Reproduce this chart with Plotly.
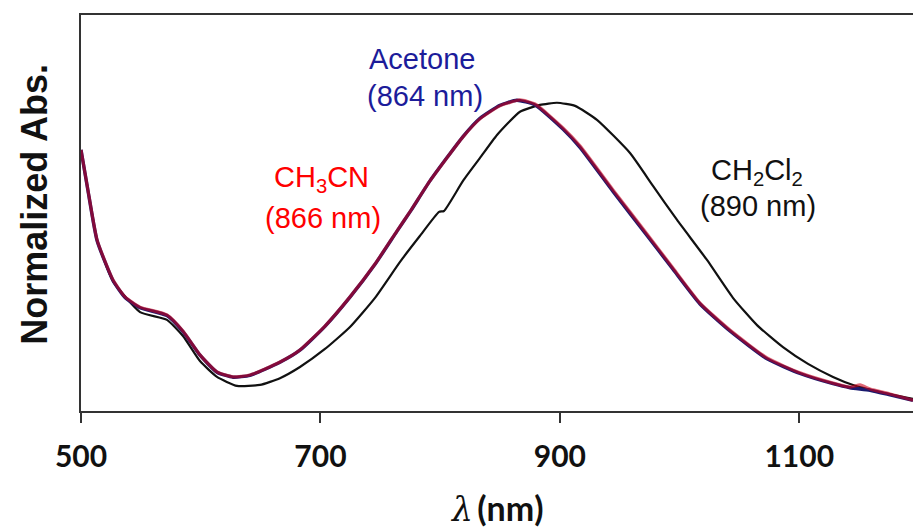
import plotly.graph_objects as go

# Wavelength (nm) and normalized absorbance
wl_ch2cl2 = [500, 505.8, 513.4, 526.7, 549.3, 571.8, 585.2, 599.4, 613.6, 630.3, 649.5, 666.2, 682.9,
             703.8, 724.7, 745.6, 766.5, 783.2, 799.1, 803.2, 819.1, 833.3, 847.5, 866.7, 883.4, 897.6,
             912.7, 931.0, 958.6, 977.8, 997.9, 1022.9, 1044.6, 1064.7, 1086.4, 1107.3, 1128.2,
             1144.9, 1167.4, 1195]
abs_ch2cl2 = [0.842, 0.713, 0.552, 0.419, 0.319, 0.294, 0.242, 0.161, 0.110, 0.081, 0.084, 0.106, 0.142,
              0.200, 0.271, 0.365, 0.481, 0.565, 0.642, 0.645, 0.742, 0.816, 0.890, 0.965, 0.987, 0.994,
              0.984, 0.939, 0.832, 0.726, 0.616, 0.487, 0.365, 0.277, 0.206, 0.152, 0.110,
              0.084, 0.061, 0.039]

wl_ch3cn = [500, 505.8, 513.4, 526.7, 536.8, 549.3, 571.8, 585.2, 599.4, 613.6, 627.0, 641.2, 666.2,
            682.9, 703.8, 724.7, 745.6, 764.0, 775.7, 791.5, 819.1, 833.3, 850.0, 866.7, 879.3, 902.6,
            916.8, 944.4, 972.8, 994.5, 1017.1, 1042.1, 1073.1, 1100.6, 1128.2, 1142.4, 1150.8,
            1159.1, 1175.8, 1195]
abs_ch3cn = [0.842, 0.713, 0.552, 0.423, 0.368, 0.335, 0.310, 0.258, 0.181, 0.126, 0.110, 0.116, 0.158,
             0.197, 0.274, 0.368, 0.474, 0.581, 0.648, 0.742, 0.884, 0.942, 0.984, 1.003, 0.990, 0.913,
             0.855, 0.713, 0.571, 0.461, 0.348, 0.261, 0.171, 0.123, 0.090, 0.077, 0.084,
             0.071, 0.055, 0.035]

wl_acetone = [500, 505.8, 513.4, 526.7, 536.8, 549.3, 571.8, 585.2, 599.4, 613.6, 627.0, 641.2, 666.2,
              682.9, 703.8, 724.7, 745.6, 764.0, 775.7, 791.5, 819.1, 833.3, 850.0, 864.0, 879.3, 902.6,
              916.8, 944.4, 972.8, 994.5, 1017.1, 1042.1, 1073.1, 1100.6, 1128.2, 1142.4,
              1159.1, 1175.8, 1195]
abs_acetone = [0.842, 0.711, 0.550, 0.421, 0.366, 0.333, 0.308, 0.256, 0.180, 0.125, 0.109, 0.115, 0.157,
               0.196, 0.273, 0.367, 0.473, 0.580, 0.647, 0.742, 0.885, 0.944, 0.986, 1.002, 0.987, 0.909,
               0.850, 0.708, 0.566, 0.457, 0.345, 0.258, 0.168, 0.121, 0.088, 0.075,
               0.067, 0.052, 0.034]

x_ticks = [500, 700, 900, 1100]

fig = go.Figure()
spl = dict(shape="spline", smoothing=0.5)
fig.add_trace(go.Scatter(x=wl_ch2cl2, y=abs_ch2cl2, mode="lines", name="CH2Cl2",
                         line=dict(color="#111111", width=2.2, **spl)))
fig.add_trace(go.Scatter(x=wl_acetone, y=abs_acetone, mode="lines", name="Acetone",
                         line=dict(color="#1a1a6e", width=3.4, **spl)))
fig.add_trace(go.Scatter(x=wl_ch3cn, y=abs_ch3cn, mode="lines", name="CH3CN",
                         line=dict(color="rgba(200,0,25,0.6)", width=3.2, **spl)))

lab = dict(family="Liberation Sans, Arial, sans-serif", size=29)
ann = [
    dict(x=784.9, y=1.136, text="Acetone", font=dict(lab, color="#1c1c9a")),
    dict(x=787.0, y=1.016, text="(864 nm)", font=dict(lab, color="#1c1c9a")),
    dict(x=701.3, y=0.748, text="CH<sub>3</sub>CN", font=dict(lab, color="#ff0000")),
    dict(x=702.0, y=0.623, text="(866 nm)", font=dict(lab, color="#ff0000")),
    dict(x=1064.7, y=0.772, text="CH<sub>2</sub>Cl<sub>2</sub>", font=dict(lab, color="#111111")),
    dict(x=1065.5, y=0.661, text="(890 nm)", font=dict(lab, color="#111111")),
]
for a in ann:
    fig.add_annotation(xref="x", yref="y", showarrow=False, xanchor="center", yanchor="middle", **a)

fig.add_annotation(xref="paper", yref="y", x=0, y=0.665, xshift=-46, textangle=-90,
                   showarrow=False, xanchor="center", yanchor="middle",
                   text="<b>Normalized Abs.</b>",
                   font=dict(family="Liberation Sans, Arial, sans-serif", size=36, color="#111111"))
fig.add_annotation(xref="paper", yref="paper", x=0.500, y=0, yshift=-120,
                   showarrow=False, xanchor="center", yanchor="bottom",
                   text='<span style="font-family:DejaVu Serif;font-size:33px"><i>λ</i></span>\u2009<b>(nm)</b>',
                   font=dict(family="Lato, sans-serif", size=34, color="#111111"))

fig.update_layout(
    width=913, height=528,
    margin=dict(l=81, r=0, t=15, b=117),
    paper_bgcolor="white", plot_bgcolor="white",
    showlegend=False,
)
fig.update_xaxes(range=[500, 1195], tickvals=x_ticks, ticktext=[str(v) for v in x_ticks],
                 showline=True, linecolor="#333333", linewidth=2, mirror=True,
                 ticks="outside", ticklen=10, tickwidth=1.5, tickcolor="#333333",
                 showgrid=False, zeroline=False, ticklabelstandoff=8,
                 tickfont=dict(family="Lato, sans-serif", size=30, color="#111111", weight="bold"))
fig.update_yaxes(range=[0, 1.277], showline=True, linecolor="#333333", linewidth=2,
                 showticklabels=False, ticks="", showgrid=False, zeroline=False)

fig.write_html("out.html", config={"displayModeBar": False},
               post_script="document.body.style.margin='0';document.body.style.overflow='hidden';")
